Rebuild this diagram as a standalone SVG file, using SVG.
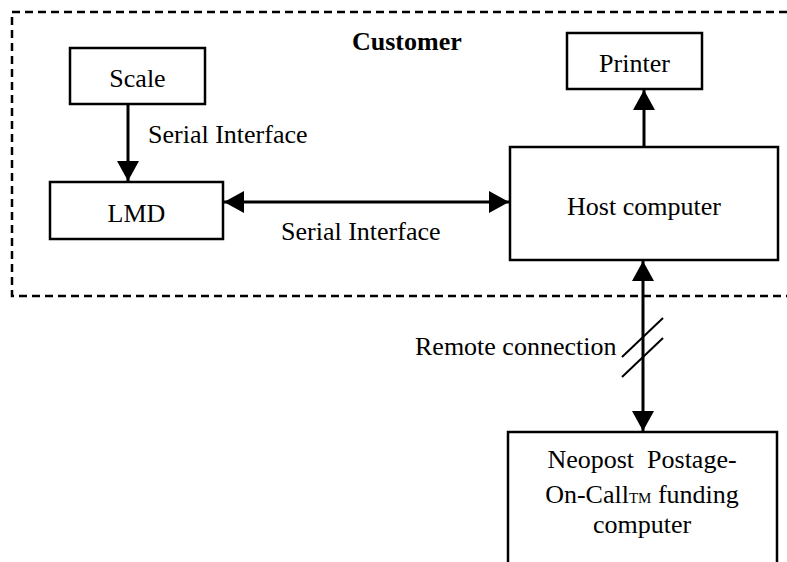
<svg xmlns="http://www.w3.org/2000/svg" width="787" height="562" viewBox="0 0 787 562">
<defs>
<style>
.box{fill:#fff;stroke:#000;stroke-width:2.5}
.t{font-family:"Liberation Serif","Times New Roman",serif;font-size:26px;fill:#000}
.c{text-anchor:middle}
.b{font-weight:bold}
.ln{stroke:#000;stroke-width:3;fill:none}
.dash{stroke:#000;stroke-width:2.5;fill:none;stroke-dasharray:8 5}
</style>
<marker id="ah" markerUnits="userSpaceOnUse" markerWidth="20" markerHeight="22" refX="20" refY="11" orient="auto-start-reverse" viewBox="0 0 20 22">
<path d="M0,0 L20,11 L0,22 z" fill="#000"/>
</marker>
</defs>
<rect width="787" height="562" fill="#fff"/>
<g id="customer-boundary">
<path class="dash" d="M787,12 H12 V296 H787"/>
<text class="t b" x="352" y="50">Customer</text>
</g>
<g id="connectors">
<line class="ln" x1="128" y1="104" x2="128" y2="181" marker-end="url(#ah)"/>
<text class="t" x="148" y="143">Serial Interface</text>
<line class="ln" x1="224" y1="202" x2="509" y2="202" marker-start="url(#ah)" marker-end="url(#ah)"/>
<text class="t" x="281" y="240">Serial Interface</text>
<line class="ln" x1="644" y1="147" x2="644" y2="90" marker-end="url(#ah)"/>
<line class="ln" x1="643" y1="261" x2="643" y2="431" marker-start="url(#ah)" marker-end="url(#ah)"/>
<line class="ln" x1="622" y1="357" x2="663" y2="318" style="stroke-width:2"/>
<line class="ln" x1="622" y1="377" x2="663" y2="338" style="stroke-width:2"/>
<text class="t" x="415" y="355">Remote connection</text>
</g>
<g id="scale">
<rect class="box" x="70" y="48" width="135" height="56"/>
<text class="t c" x="137.5" y="87">Scale</text>
</g>
<g id="lmd">
<rect class="box" x="50" y="182" width="173" height="57"/>
<text class="t c" x="136.5" y="222">LMD</text>
</g>
<g id="printer">
<rect class="box" x="567" y="33" width="135" height="56"/>
<text class="t c" x="634.5" y="72">Printer</text>
</g>
<g id="host">
<rect class="box" x="510" y="147" width="268" height="113"/>
<text class="t c" x="644" y="215">Host computer</text>
</g>
<g id="neopost">
<rect class="box" x="508" y="432" width="269" height="140"/>
<text class="t c" x="642" y="468" xml:space="preserve">Neopost  Postage-</text>
<text class="t c" x="642" y="503">On-Call<tspan font-size="15">TM</tspan> funding</text>
<text class="t c" x="642" y="533">computer</text>
</g>
</svg>
